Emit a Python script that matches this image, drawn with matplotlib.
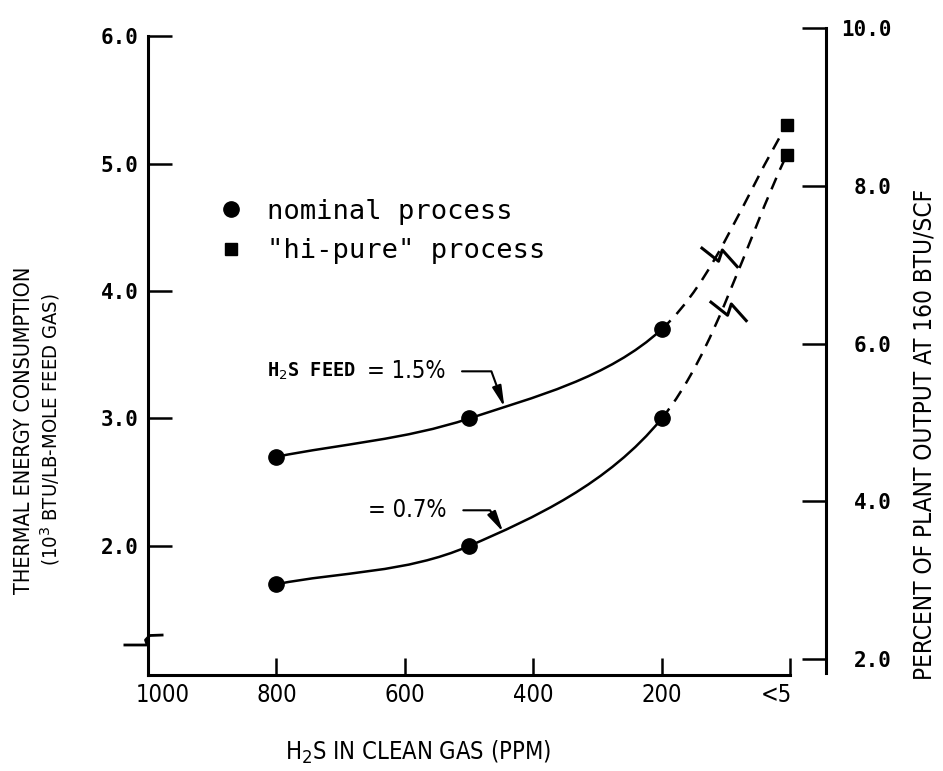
import matplotlib
matplotlib.use('Agg')
import matplotlib.pyplot as plt
import matplotlib.transforms as mtransforms
from matplotlib.path import Path
from matplotlib.patches import PathPatch
from matplotlib.markers import MarkerStyle
from matplotlib.lines import Line2D
import numpy as np

# values
h2s_ppm = [800, 500, 200]
energy_feed_15 = [2.7, 3.0, 3.7]     # H2S feed = 1.5 %, nominal process
energy_feed_07 = [1.7, 2.0, 3.0]     # H2S feed = 0.7 %, nominal process
hipure_ppm = 5
hipure_feed_15 = 5.3
hipure_feed_07 = 5.07

x_ticks = [1000, 800, 600, 400, 200, 0]
x_tick_labels = ['1000', '800', '600', '400', '200', '<5']
left_ticks = [2.0, 3.0, 4.0, 5.0, 6.0]
right_ticks = [2.0, 4.0, 6.0, 8.0, 10.0]

MONO = 'DejaVu Sans Mono'
SANS = 'DejaVu Sans'


def smooth_segments(xs, ys):
    # bezier segments through the points (catmull-rom style tangents)
    pts = np.column_stack([xs, ys]).astype(float)
    tang = np.zeros_like(pts)
    tang[0] = pts[1] - pts[0]
    tang[-1] = pts[-1] - pts[-2]
    for i in range(1, len(pts) - 1):
        tang[i] = (pts[i + 1] - pts[i - 1]) / 2
    segs = []
    for i in range(len(pts) - 1):
        p0, p1 = pts[i], pts[i + 1]
        segs.append(Path([p0, p0 + tang[i] / 3, p1 - tang[i + 1] / 3, p1],
                         [Path.MOVETO, Path.CURVE4, Path.CURVE4, Path.CURVE4]))
    return segs


def draw_curve(ax, ys, y_end):
    segs = smooth_segments(h2s_ppm + [hipure_ppm], ys + [y_end])
    for i, seg in enumerate(segs):
        dashed = i == len(segs) - 1
        ax.add_patch(PathPatch(seg, fill=False, lw=1.8, ec='black',
                               ls=(0, (5, 3.5)) if dashed else '-'))
    ax.plot(h2s_ppm, ys, 'o', color='black', ms=11, zorder=5)
    ax.plot([hipure_ppm], [y_end], 's', color='black', ms=9, zorder=5)


def curve_label(ax, x, y, small, big, tip, angle):
    t = ax.text(x, y, big, ha='right', va='center', family=SANS,
                fontstretch='condensed', fontsize=17)
    if small:
        ax.annotate(small, xy=(0, 0.5), xycoords=t, xytext=(-8, 0),
                    textcoords='offset points', ha='right', va='center',
                    family=MONO, fontweight='bold', fontsize=13.5)
    ax.annotate('', xy=tip, xytext=(x - 26, y),
                arrowprops=dict(arrowstyle='-|>,head_length=0.9,head_width=0.2',
                                connectionstyle='angle,angleA=0,angleB=%d,rad=0' % angle,
                                lw=1.5, color='black', shrinkA=0, shrinkB=0,
                                mutation_scale=14))


fig = plt.figure(figsize=(9.43, 7.71), dpi=100)
fig.patch.set_facecolor('white')
ax = fig.add_axes([0.157, 0.1245, 0.719, 0.8392])
ax2 = ax.twinx()

ax.set_xlim(1000, -56)
ax.set_ylim(0.988, 6.063)
ax2.set_ylim(1.80, 10.0)

draw_curve(ax, energy_feed_15, hipure_feed_15)
draw_curve(ax, energy_feed_07, hipure_feed_07)

# break symbols on the dashed extensions
zig = Path([(-1.0, 0.55), (-0.05, -0.2), (0.15, 0.4), (1.0, -0.55)])
ax.plot([110, 96], [4.27, 3.84], ls='none', marker=MarkerStyle(zig), ms=27,
        mew=2.2, mec='black', mfc='none', fillstyle='none')
# break on the left axis
brk = Path([(-1.0, -0.18), (-0.05, -0.18), (-0.12, 0.02), (0.05, 0.2), (0.6, 0.22)])
ax.plot([1000], [1.26], ls='none', marker=MarkerStyle(brk), ms=36, mew=2,
        mec='black', mfc='none', fillstyle='none', clip_on=False)

# spines
for s in ['top', 'right']:
    ax.spines[s].set_visible(False)
for s in ['top', 'left', 'bottom']:
    ax2.spines[s].set_visible(False)
ax.spines['left'].set_bounds(ax.get_ylim()[0], 6.0)
ax.spines['bottom'].set_bounds(0, 1000)
ax2.spines['right'].set_bounds(1.82, 10.0)
for sp in [ax.spines['left'], ax.spines['bottom'], ax2.spines['right']]:
    sp.set_linewidth(2.2)

ax.set_xticks(x_ticks)
ax.set_xticklabels(x_tick_labels, family=SANS, fontstretch='condensed', fontsize=17)
ax.set_yticks(left_ticks)
ax.set_yticklabels(['%.1f' % v for v in left_ticks], family=MONO,
                   fontweight='bold', fontsize=15)
ax2.set_yticks(right_ticks)
ax2.set_yticklabels(['%.1f' % v for v in right_ticks], family=MONO,
                    fontweight='bold', fontsize=15)
for lab in ax2.get_yticklabels():
    lab.set_ha('right')

ax.tick_params(axis='y', direction='in', length=17, width=1.8, pad=7)
ax.tick_params(axis='x', direction='in', length=12, width=1.8, pad=6)
ax2.tick_params(axis='y', direction='in', length=17, width=1.8, pad=47)

# nudge the end labels of the x axis like the original lettering
xl = ax.get_xticklabels()
xl[0].set_transform(xl[0].get_transform() +
                    mtransforms.ScaledTranslation(0.15, 0, fig.dpi_scale_trans))
xl[-1].set_transform(xl[-1].get_transform() +
                     mtransforms.ScaledTranslation(-0.14, 0, fig.dpi_scale_trans))

# legend
handles = [Line2D([], [], marker='o', ls='none', color='black', ms=11),
           Line2D([], [], marker='s', ls='none', color='black', ms=9)]
ax.legend(handles, ['nominal process', '"hi-pure" process'], loc='center left',
          bbox_to_anchor=(0.103, 0.6855), frameon=False,
          prop=dict(family=MONO, size=19.5), handlelength=1.0, handletextpad=0.8,
          labelspacing=0.5, borderpad=0, borderaxespad=0)

# curve labels with leaders
curve_label(ax, 537, 3.37, 'H$_2$S FEED', '= 1.5%', (445, 3.09), 110)
curve_label(ax, 535, 2.28, '', '= 0.7%', (447, 2.11), 121)

# axis titles
fig.text(418 / 943, 1 - 752 / 771, 'H$_2$S IN CLEAN GAS (PPM)', ha='center',
         va='center', family=SANS, fontstretch='condensed', fontsize=17)
fig.text(24 / 943, 1 - 430 / 771, 'THERMAL ENERGY CONSUMPTION', rotation=90,
         ha='center', va='center', family=SANS, fontstretch='condensed', fontsize=15.5)
fig.text(50 / 943, 1 - 430 / 771, '(10$^3$ BTU/LB-MOLE FEED GAS)', rotation=90,
         ha='center', va='center', family=SANS, fontstretch='condensed', fontsize=14.5)
fig.text(925 / 943, 1 - 434 / 771, 'PERCENT OF PLANT OUTPUT AT 160 BTU/SCF', rotation=90,
         ha='center', va='center', family=SANS, fontstretch='condensed', fontsize=17.5)

fig.savefig('out.png', dpi=100, facecolor='white')
